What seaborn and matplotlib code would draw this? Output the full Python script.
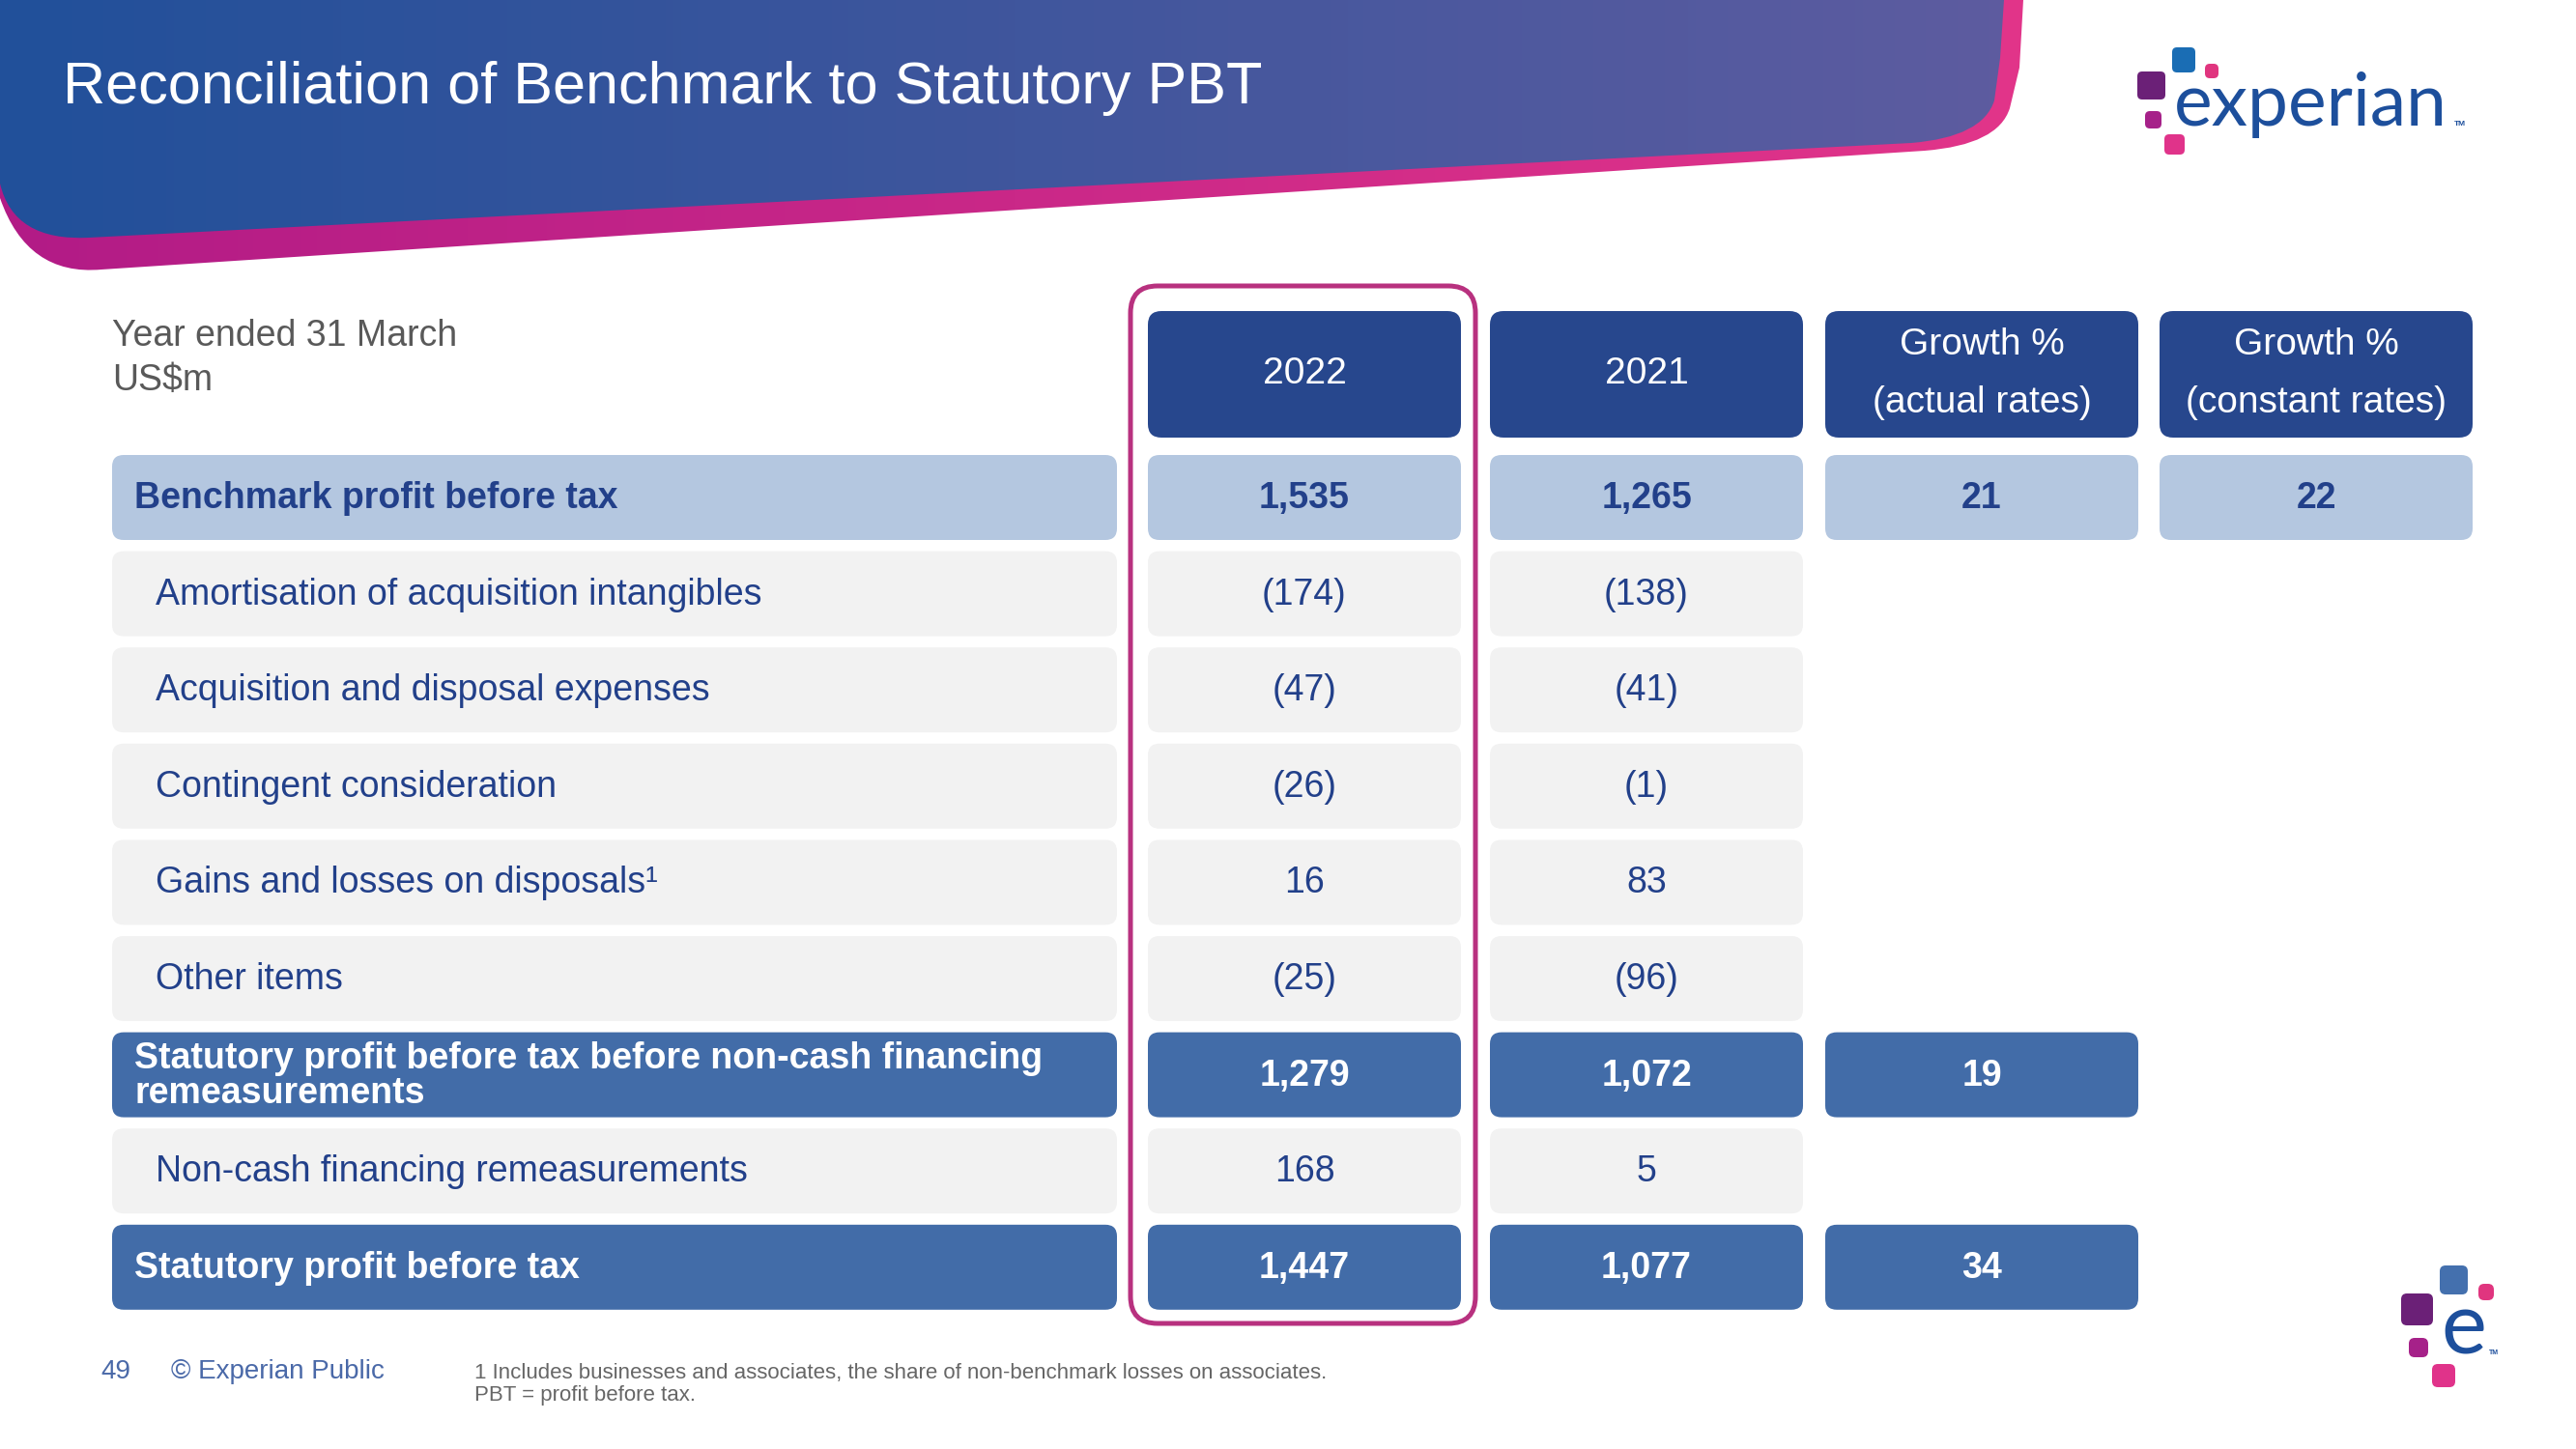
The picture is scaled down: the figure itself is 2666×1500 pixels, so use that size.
import numpy as np
import seaborn as sns
import matplotlib.pyplot as plt
from matplotlib.patches import FancyBboxPatch, PathPatch
from matplotlib.path import Path
from matplotlib.colors import LinearSegmentedColormap

# table content
title = "Reconciliation of Benchmark to Statutory PBT"
row_labels = [
    "Benchmark profit before tax",
    "Amortisation of acquisition intangibles",
    "Acquisition and disposal expenses",
    "Contingent consideration",
    "Gains and losses on disposals\u00b9",
    "Other items",
    "Statutory profit before tax before non-cash financing\nremeasurements",
    "Non-cash financing remeasurements",
    "Statutory profit before tax",
]
row_kind = ["bench", "item", "item", "item", "item", "item", "sub", "item", "sub"]
col_headers = ["2022", "2021", "Growth %\n(actual rates)", "Growth %\n(constant rates)"]
pbt_2022 = [1535, -174, -47, -26, 16, -25, 1279, 168, 1447]
pbt_2021 = [1265, -138, -41, -1, 83, -96, 1072, 5, 1077]
growth_actual = [21, None, None, None, None, None, 19, None, 34]
growth_constant = [22, None, None, None, None, None, None, None, None]
footnote = ("1 Includes businesses and associates, the share of non-benchmark losses on associates.\n"
            "PBT = profit before tax.")


def fmt(v):
    if v is None:
        return None
    return f"({abs(v):,})" if v < 0 else f"{v:,}"


sns.set_theme(style="white")
plt.rcParams['font.family'] = ['Liberation Sans', 'DejaVu Sans']

DARK = "#27478d"
MID = "#426ca8"
LIGHT = "#b4c7e0"
GREY = "#f2f2f2"
TXT = "#22408a"

fig = plt.figure(figsize=(26.66, 15), dpi=100)
ax = fig.add_axes([0, 0, 1, 1])

# header band: pink underlay then blue gradient shape
pink_path = Path(
    [(0, 0), (2094, 0), (2090, 70), (2080, 112), (2068, 150), (1992, 156),
     (105, 279), (28, 286), (0, 205), (0, 0)],
    [Path.MOVETO, Path.LINETO, Path.LINETO, Path.LINETO, Path.CURVE3, Path.CURVE3,
     Path.LINETO, Path.CURVE3, Path.CURVE3, Path.CLOSEPOLY])
blue_path = Path(
    [(0, 0), (2074, 0), (2070, 60), (2064, 104), (2052, 142), (1978, 148),
     (92, 246), (14, 250), (0, 190), (0, 0)],
    [Path.MOVETO, Path.LINETO, Path.LINETO, Path.LINETO, Path.CURVE3, Path.CURVE3,
     Path.LINETO, Path.CURVE3, Path.CURVE3, Path.CLOSEPOLY])
grad = np.linspace(0, 1, 256).reshape(1, -1)
for path, cols in [(pink_path, ["#b21b86", "#e2358a"]), (blue_path, ["#21509a", "#5e5ca0"])]:
    clip = PathPatch(path, facecolor="none", edgecolor="none")
    ax.add_patch(clip)
    im = ax.imshow(grad, extent=[0, 2100, 300, 0], aspect="auto",
                   cmap=LinearSegmentedColormap.from_list("g", cols), zorder=1)
    im.set_clip_path(clip)

ax.text(65, 92, title, color="white", fontsize=44, va="center", ha="left", zorder=3)

# logo top right
sq = [(2248, 49, 24, 26, "#1a6db4"), (2282, 66, 14, 15, "#e0357f"), (2212, 74, 29, 29, "#6b2077"),
      (2220, 115, 17, 18, "#a62189"), (2240, 139, 21, 21, "#e0338a")]
for x, y, w, h, c in sq:
    ax.add_patch(FancyBboxPatch((x, y), w, h, boxstyle="round,pad=0,rounding_size=5",
                                fc=c, ec="none", zorder=3))
ax.text(2250, 130, "experian", family=["Lato", "DejaVu Sans"], fontsize=54, color="#1d4f9c",
        va="baseline", ha="left", zorder=3)
ax.text(2540, 130, "TM", fontsize=6, color="#1d4f9c", va="baseline", ha="left", weight="bold")

# small logo bottom right
sq2 = [(2525, 1310, 29, 30, "#4470ae"), (2565, 1329, 16, 17, "#e0357f"), (2485, 1339, 33, 33, "#6b2077"),
       (2493, 1385, 20, 20, "#a62189"), (2517, 1412, 24, 24, "#e0338a")]
for x, y, w, h, c in sq2:
    ax.add_patch(FancyBboxPatch((x, y), w, h, boxstyle="round,pad=0,rounding_size=6",
                                fc=c, ec="none", zorder=3))
ax.text(2526, 1402, "e", family=["Lato", "DejaVu Sans"], fontsize=64, color="#1d4f9c",
        va="baseline", ha="left", zorder=3)
ax.text(2576, 1402, "TM", fontsize=5, color="#1d4f9c", va="baseline", ha="left", weight="bold")

# column header
ax.text(116, 348, "Year ended 31 March", fontsize=27, color="#595959", va="center")
ax.text(116, 394, "US$m", fontsize=27, color="#595959", va="center")

col_left = [1188, 1542, 1889, 2235]
col_w = 324
for i, hdr in enumerate(col_headers):
    ax.add_patch(FancyBboxPatch((col_left[i], 322), col_w, 131,
                                boxstyle="round,pad=0,rounding_size=14", fc=DARK, ec="none", zorder=2))
    ax.text(col_left[i] + col_w / 2, 387, hdr, fontsize=28, color="white", ha="center",
            va="center", linespacing=1.85, zorder=3)

# rows
row_top0, pitch, row_h = 471, 99.6, 88
col_values = [pbt_2022, pbt_2021, growth_actual, growth_constant]
for r, lab in enumerate(row_labels):
    top = row_top0 + r * pitch
    yc = top + row_h / 2
    kind = row_kind[r]
    if kind == "bench":
        fc, tc, wt, lx = LIGHT, TXT, "bold", 139
    elif kind == "sub":
        fc, tc, wt, lx = MID, "white", "bold", 139
    else:
        fc, tc, wt, lx = GREY, TXT, "normal", 161
    ax.add_patch(FancyBboxPatch((116, top), 1040, row_h, boxstyle="round,pad=0,rounding_size=12",
                                fc=fc, ec="none", zorder=2))
    ax.text(lx, yc + 1, lab, fontsize=27, color=tc, weight=wt, va="center", ha="left",
            linespacing=1.0, zorder=3)
    for c, vals in enumerate(col_values):
        s = fmt(vals[r])
        if s is None and c >= 2:
            continue
        ax.add_patch(FancyBboxPatch((col_left[c], top), col_w, row_h,
                                    boxstyle="round,pad=0,rounding_size=12", fc=fc, ec="none", zorder=2))
        if s is not None:
            ax.text(col_left[c] + col_w / 2, yc + 1, s, fontsize=27, color=tc, weight=wt,
                    ha="center", va="center", zorder=3)

# highlight 2022 column
ax.add_patch(FancyBboxPatch((1170, 296), 357, 1074, boxstyle="round,pad=0,rounding_size=28",
                            fc="none", ec="#b8317f", lw=3.6, zorder=4))

# footer
ax.text(104, 1420, "49", fontsize=20, color="#4a69a8", va="center")
ax.text(177, 1420, "\u00a9 Experian Public", fontsize=20, color="#4a69a8", va="center")
ax.text(491, 1433, footnote, fontsize=16, color="#666666", va="center", linespacing=1.15)

ax.set_xlim(0, 2666)
ax.set_ylim(1500, 0)
ax.axis("off")
fig.savefig("out.png", dpi=100, facecolor="white")
